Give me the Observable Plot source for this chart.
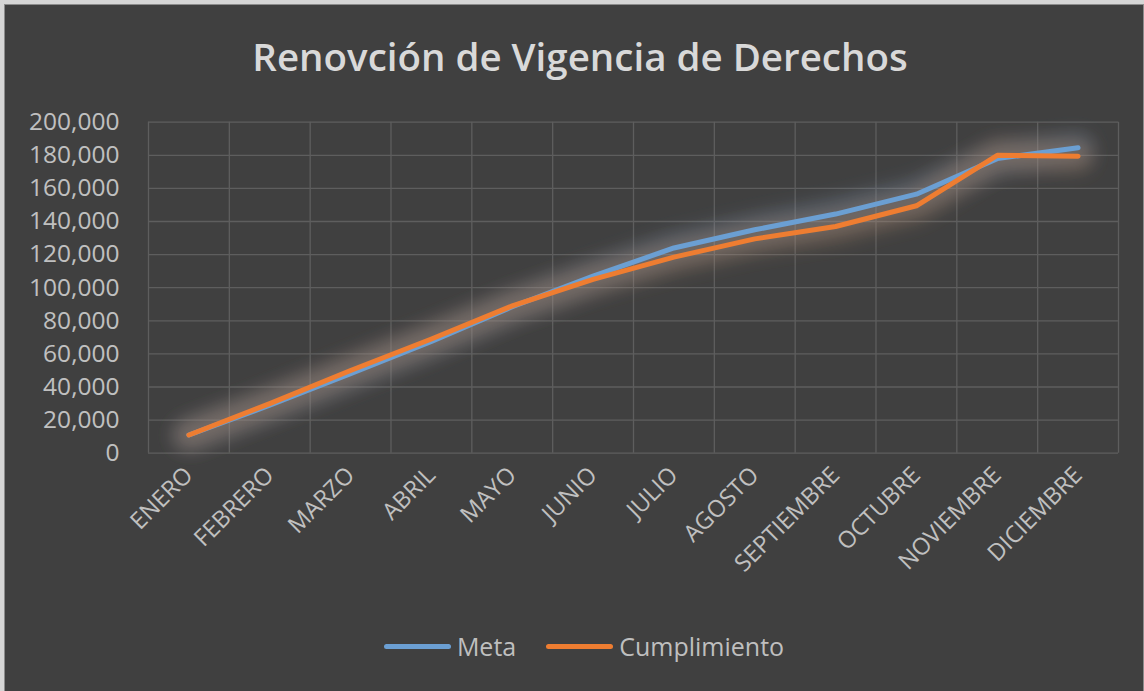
<!DOCTYPE html>
<html><head><meta charset="utf-8">
<script src="https://cdn.jsdelivr.net/npm/d3@7"></script>
<script src="https://cdn.jsdelivr.net/npm/@observablehq/plot@0.6"></script>
<style>
html,body{margin:0;padding:0;width:1144px;height:691px;overflow:hidden;background:#d6d6d6;font-family:"Open Sans",sans-serif;}
#frame{position:absolute;left:4px;top:4px;width:1138px;height:700px;background:#404040;border:1px solid #8c8c8c;border-bottom:none;}
#title{position:absolute;left:0;top:30px;width:1160px;text-align:center;color:#d9d9d9;font-size:38.5px;font-weight:600;white-space:nowrap;}
#chart{position:absolute;left:0;top:100px;}
#legend{position:absolute;left:0;top:629px;width:1168px;display:flex;justify-content:center;align-items:center;color:#bfbfbf;font-size:25px;}
.sw{display:inline-block;width:67px;height:5px;border-radius:3px;margin-right:6px;}
.item{display:flex;align-items:center;margin:0 15px;}
</style></head>
<body>
<div id="frame"></div>
<div id="title">Renovción de Vigencia de Derechos</div>
<div id="chart"></div>
<div id="legend"></div>
<script>
const months = ["ENERO","FEBRERO","MARZO","ABRIL","MAYO","JUNIO","JULIO","AGOSTO","SEPTIEMBRE","OCTUBRE","NOVIEMBRE","DICIEMBRE"];
const meta = [11000, 29000, 48000, 67500, 88500, 107000, 124000, 135000, 144500, 156500, 178000, 184500];
const cumplimiento = [11000, 30000, 50000, 69000, 89000, 105000, 118500, 129500, 137000, 149500, 180000, 179500];
const yTicks = [0, 20000, 40000, 60000, 80000, 100000, 120000, 140000, 160000, 180000, 200000];
const seriesNames = ["Meta", "Cumplimiento"];
const seriesColors = ["#6b9fd3", "#ee7d31"];

const rowsMeta = months.map((m, i) => ({i, v: meta[i]}));
const rowsCump = months.map((m, i) => ({i, v: cumplimiento[i]}));
const edges = d3.range(months.length + 1).map(k => k - 0.5);

const plot = Plot.plot({
  width: 1144,
  height: 510,
  marginTop: 21.7,
  marginBottom: 157.3,
  marginLeft: 148,
  marginRight: 26,
  style: {background: "transparent", fontFamily: "Open Sans, sans-serif"},
  x: {domain: [-0.5, months.length - 0.5], axis: null},
  y: {domain: [0, 200000], axis: null},
  marks: [
    Plot.ruleY(yTicks, {y: d => d, stroke: "#5e5e5e", strokeWidth: 1.3}),
    Plot.ruleX(edges, {x: d => d, stroke: "#5e5e5e", strokeWidth: 1.3}),
    Plot.axisY(yTicks, {tickSize: 0, tickPadding: 29, fontSize: 24.5, fill: "#c0c0c0", label: null, tickFormat: d3.format(",")}),
    Plot.axisX(d3.range(months.length), {tickSize: 0, tickPadding: 18, tickRotate: -45, fontSize: 23.5, fill: "#c0c0c0", label: null, tickFormat: i => months[i]}),
    Plot.line(rowsMeta, {x: "i", y: "v", stroke: "#7a96b8", strokeWidth: 30, strokeOpacity: 0.32, strokeLinecap: "round", className: "glow"}),
    Plot.line(rowsCump, {x: "i", y: "v", stroke: "#b58a6a", strokeWidth: 30, strokeOpacity: 0.34, strokeLinecap: "round", className: "glow"}),
    Plot.line(rowsMeta, {x: "i", y: "v", stroke: seriesColors[0], strokeWidth: 5, strokeLinecap: "round", strokeLinejoin: "round"}),
    Plot.line(rowsCump, {x: "i", y: "v", stroke: seriesColors[1], strokeWidth: 5, strokeLinecap: "round", strokeLinejoin: "round"})
  ]
});
const ns = "http://www.w3.org/2000/svg";
const defs = document.createElementNS(ns, "defs");
defs.innerHTML = '<filter id="glowf" x="-20%" y="-50%" width="140%" height="200%"><feGaussianBlur stdDeviation="9"/></filter>';
plot.insertBefore(defs, plot.firstChild);
plot.querySelectorAll("g.glow").forEach(g => g.setAttribute("filter", "url(#glowf)"));
document.getElementById("chart").appendChild(plot);

const legend = document.getElementById("legend");
seriesNames.forEach((n, k) => {
  const it = document.createElement("div");
  it.className = "item";
  it.innerHTML = `<span class="sw" style="background:${seriesColors[k]}"></span><span>${n}</span>`;
  legend.appendChild(it);
});
</script>
</body></html>
